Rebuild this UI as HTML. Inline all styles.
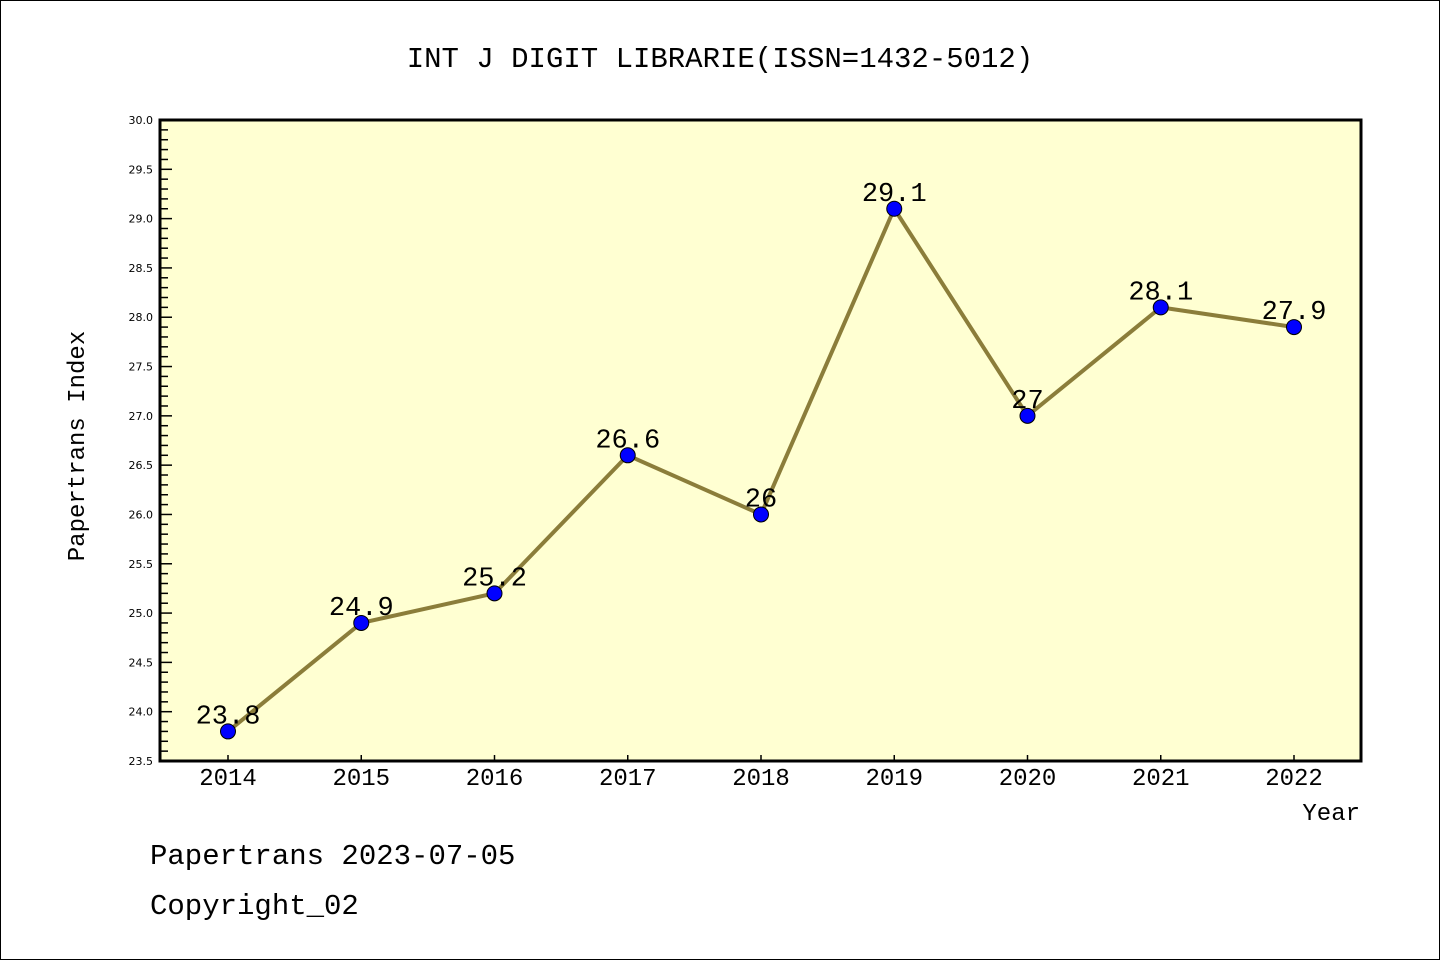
<!DOCTYPE html>
<html><head><meta charset="utf-8"><style>
body{margin:0;background:#fff;}
svg{display:block;font-family:"Liberation Mono","DejaVu Sans Mono",monospace;}
</style></head><body>
<svg id="chart" width="1440" height="960" xmlns="http://www.w3.org/2000/svg">
<rect x="0.5" y="0.5" width="1439" height="959" fill="#fff" stroke="#000"/>
<text x="720" y="67" text-anchor="middle" font-size="29" fill="#000">INT J DIGIT LIBRARIE(ISSN=1432-5012)</text>
<rect x="160" y="120" width="1201" height="641" fill="#ffffd2"/>
<g id="yaxis"></g>
<g id="xaxis"></g>
<g id="series"></g>
<rect x="160" y="120" width="1201" height="641" fill="none" stroke="#000" stroke-width="3"/>
<text transform="translate(84,446) rotate(-90)" text-anchor="middle" font-size="24" fill="#000">Papertrans Index</text>
<text x="1360" y="820" text-anchor="end" font-size="24" fill="#000">Year</text>
<text x="150" y="864" font-size="29" fill="#000">Papertrans 2023-07-05</text>
<text x="150" y="914" font-size="29" fill="#000">Copyright_02</text>
</svg>
<script>
const categories = ["2014","2015","2016","2017","2018","2019","2020","2021","2022"];
const values = [23.8, 24.9, 25.2, 26.6, 26.0, 29.1, 27.0, 28.1, 27.9];
const valueLabels = ["23.8","24.9","25.2","26.6","26","29.1","27","28.1","27.9"];
const yTicks = ["23.5","24.0","24.5","25.0","25.5","26.0","26.5","27.0","27.5","28.0","28.5","29.0","29.5","30.0"];

const NS="http://www.w3.org/2000/svg";
const L=160,R=1361,T=120,B=761,yMin=23.5,yMax=30;
const step=(R-L-135)/(categories.length-1);
function xs(i){return L+68+i*step;}
function ys(v){return B-(v-yMin)/(yMax-yMin)*(B-T);}
function mk(tag,attrs,parent){const e=document.createElementNS(NS,tag);for(const k in attrs)e.setAttribute(k,attrs[k]);parent.appendChild(e);return e;}
const ya=document.getElementById('yaxis'),xa=document.getElementById('xaxis'),sr=document.getElementById('series');
for(let k=0;k<=Math.round((yMax-yMin)*10);k++){
  const v=yMin+k*0.1,y=ys(v),major=k%5===0;
  const t=mk('line',{x1:L,x2:L+(major?12:8),y1:y,y2:y,stroke:'#000','stroke-width':1.5},ya);
  
  
}
yTicks.forEach(s=>{
  const t=mk('text',{x:L-7,y:ys(parseFloat(s))+4,'text-anchor':'end','font-size':11,'font-family':'DejaVu Sans, sans-serif'},ya);
  t.textContent=s;
  
  
});
categories.forEach((c,i)=>{
  const x=xs(i);
  const t=mk('line',{x1:x,x2:x,y1:B,y2:B-6,stroke:'#000','stroke-width':1.5},xa);
  
  
  const l=mk('text',{x:x,y:B+24,'text-anchor':'middle','font-size':24},xa);
  l.textContent=c;
  
  
});
const line=mk('polyline',{points:values.map((v,i)=>xs(i)+','+ys(v)).join(' '),fill:'none',stroke:'#8b7d3a','stroke-width':4},sr);


values.forEach((v,i)=>{
  const lb=mk('text',{x:xs(i),y:ys(v)-8,'text-anchor':'middle','font-size':27},sr);
  lb.textContent=valueLabels[i];
  
  
});
values.forEach((v,i)=>{
  const p=mk('circle',{cx:xs(i),cy:ys(v),r:7.5,fill:'#0000ff',stroke:'#000','stroke-width':1},sr);
  
  
});
</script>
</body></html>
